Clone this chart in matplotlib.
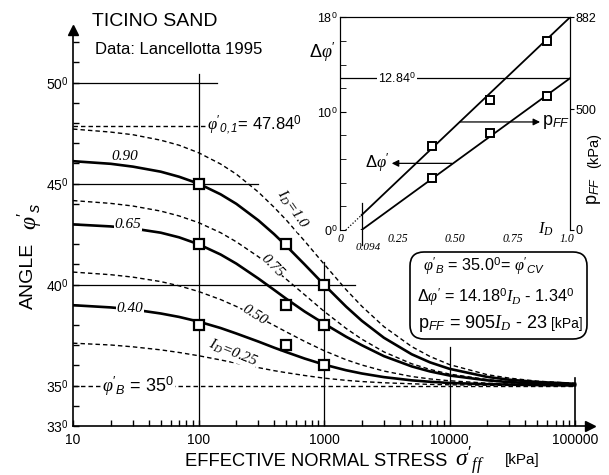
import numpy as np
import matplotlib.pyplot as plt
from matplotlib.patches import FancyBboxPatch
from matplotlib.transforms import IdentityTransform

plt.rcParams['font.family'] = ['Liberation Sans', 'DejaVu Sans']
plt.rcParams['mathtext.fontset'] = 'custom'
plt.rcParams['mathtext.rm'] = 'Liberation Sans'
plt.rcParams['mathtext.it'] = 'Liberation Serif:italic'
plt.rcParams['mathtext.sf'] = 'Liberation Sans:italic'
plt.rcParams['mathtext.bf'] = 'Liberation Sans:bold'

# effective normal stress (kPa) at which the curves were read
sigma = [10, 20, 30, 50, 70, 100, 150, 200, 300, 400, 500, 700, 1000, 1500, 2000,
         3000, 5000, 7000, 10000, 20000, 30000, 50000, 100000]

# dashed curves (I_D = 1.0, 0.75, 0.50, 0.25)
phi_100 = [47.70, 47.55, 47.42, 47.15, 46.90, 46.53, 45.97, 45.47, 44.58, 43.83, 43.20,
           42.16, 41.02, 39.75, 38.93, 37.92, 36.93, 36.44, 36.04, 35.54, 35.37, 35.22, 35.11]
phi_075 = [44.16, 44.02, 43.89, 43.64, 43.40, 43.07, 42.57, 42.12, 41.38, 40.77, 40.27,
           39.50, 38.68, 37.83, 37.30, 36.67, 36.08, 35.80, 35.57, 35.30, 35.20, 35.12, 35.06]
phi_050 = [40.62, 40.49, 40.37, 40.15, 39.94, 39.66, 39.26, 38.92, 38.39, 37.98, 37.66,
           37.19, 36.73, 36.28, 36.02, 35.72, 35.45, 35.33, 35.24, 35.12, 35.08, 35.05, 35.02]
phi_025 = [37.10, 37.01, 36.92, 36.77, 36.64, 36.48, 36.27, 36.11, 35.89, 35.74, 35.64,
           35.50, 35.37, 35.26, 35.20, 35.14, 35.09, 35.06, 35.04, 35.02, 35.01, 35.01, 35.00]
# solid curves (I_D = 0.90, 0.65, 0.40)
phi_090 = [46.11, 45.98, 45.84, 45.59, 45.34, 45.00, 44.47, 44.00, 43.18, 42.50, 41.92,
           41.00, 40.00, 38.91, 38.21, 37.37, 36.55, 36.15, 35.83, 35.43, 35.29, 35.18, 35.09]
phi_065 = [42.98, 42.88, 42.78, 42.57, 42.34, 42.00, 41.49, 41.04, 40.30, 39.74, 39.30,
           38.67, 38.07, 37.42, 37.00, 36.46, 35.95, 35.70, 35.50, 35.26, 35.17, 35.10, 35.05]
phi_040 = [38.98, 38.87, 38.77, 38.57, 38.40, 38.17, 37.85, 37.58, 37.18, 36.88, 36.66,
           36.34, 36.04, 35.76, 35.60, 35.42, 35.26, 35.19, 35.13, 35.07, 35.05, 35.03, 35.01]

# test data points
sig_data = [100, 500, 1000]
pts_090 = [45.0, 42.0, 40.0]
pts_065 = [42.0, 39.0, 38.0]
pts_040 = [38.0, 37.0, 36.0]

# inset data
id_pts = [0.40, 0.65, 0.90]
dphi_pts = [4.37, 8.23, 11.36]
pff_pts = [348, 539, 785]
id_line = [0.094, 1.0]
dphi_line = [0.0, 12.84]
pff_line = [62, 882]
id_dot = [0.025, 0.094]
pff_dot = [0, 62]

W, H = 609, 475


def fx(x):
    return x / W


def fy(y):
    return 1 - y / H


fig = plt.figure(figsize=(W / 100, H / 100), dpi=100)
ax = fig.add_axes([fx(73), fy(426), 517 / W, 396 / H])
ax.set_xscale('log')
ax.set_xlim(10, 10 ** (1 + 517 / 125.5))
ax.set_ylim(33, 33 + 396 / 20.2)
for s in ['top', 'right']:
    ax.spines[s].set_visible(False)
ax.spines['left'].set_linewidth(1.2)
ax.spines['bottom'].set_linewidth(1.2)
ax.plot(1, 0, '>k', ms=7, transform=ax.transAxes, clip_on=False)
ax.plot(0, 1, '^k', ms=7, transform=ax.transAxes, clip_on=False)

ax.set_xticks([10, 100, 1000, 10000, 100000])
ax.set_xticklabels(['10', '100', '1000', '10000', '100000'], fontsize=10)
ax.set_yticks([33, 35, 40, 45, 50])
ax.set_yticklabels(['33$^0$', '35$^0$', '40$^0$', '45$^0$', '50$^0$'], fontsize=10)
ax.set_yticks(range(33, 53), minor=True)
ax.tick_params(which='both', direction='in', length=4.5, width=1)
ax.tick_params(axis='x', pad=5)
ax.tick_params(axis='y', pad=3)

dash = (0, (3.2, 2.2))
lw_ref = 0.9
# reference lines
ax.plot([10, 140], [50, 50], 'k', lw=lw_ref)
ax.plot([10, 298], [45, 45], 'k', lw=lw_ref)
ax.plot([10, 1766], [40, 40], 'k', lw=lw_ref)
ax.plot([10, 113], [47.84, 47.84], 'k', lw=1.0, ls=dash)
ax.plot([10, 100000], [35, 35], 'k', lw=1.0, ls=dash)
ax.plot([100, 100], [33, 50.43], 'k', lw=lw_ref)
ax.plot([1000, 1000], [33, 41.1], 'k', lw=lw_ref)
ax.plot([10000, 10000], [33, 36.9], 'k', lw=lw_ref)
ax.plot([100000, 100000], [33, 35.4], 'k', lw=1.2)

for phi in [phi_100, phi_075, phi_050, phi_025]:
    ax.plot(sigma, phi, 'k', lw=1.0, ls=dash)
for phi in [phi_090, phi_065, phi_040]:
    ax.plot(sigma, phi, 'k', lw=1.9, solid_joinstyle='round')
for pts in [pts_090, pts_065, pts_040]:
    ax.plot(sig_data, pts, 's', ms=7, mfc='white', mec='k', mew=1.6, zorder=5)

serif_it = dict(family='Liberation Serif', style='italic')
wbox = dict(fc='white', ec='none', pad=0.6)

fig.text(fx(155), fy(22), 'TICINO SAND', fontsize=14, ha='center', va='center')
fig.text(fx(95), fy(49), 'Data: Lancellotta 1995', fontsize=12, ha='left', va='center')
fig.text(fx(207), fy(125), r"$\varphi'_{\mathsf{0,1}}$= 47.84$^0$", fontsize=12,
         ha='left', va='center', bbox=wbox, zorder=6)
fig.text(fx(102), fy(386), r"$\varphi'_{\mathsf{B}}$ = 35$^0$", fontsize=13,
         ha='left', va='center', bbox=wbox, zorder=6)
fig.text(fx(125), fy(156), '0.90', fontsize=11, ha='center', va='center', **serif_it)
fig.text(fx(128), fy(224), '0.65', fontsize=11, ha='center', va='center',
         bbox=wbox, zorder=6, **serif_it)
fig.text(fx(130), fy(308), '0.40', fontsize=11, ha='center', va='center',
         bbox=wbox, zorder=6, **serif_it)
for (x, y, t, r) in [(292, 210, r'$I_D$=1.0', -55), (272, 266, '0.75', -45),
                     (255, 315, '0.50', -32), (233, 353, r'$I_D$=0.25', -22)]:
    fig.text(fx(x), fy(y), t, fontsize=11, ha='center', va='center', rotation=r,
             rotation_mode='anchor', bbox=dict(fc='white', ec='none', pad=0.2),
             zorder=6, **serif_it)

# axis labels
fig.text(fx(28), fy(276), 'ANGLE', fontsize=14, rotation=90, ha='center', va='center')
fig.text(fx(30), fy(216), r"$\varphi'_{\mathsf{s}}$", fontsize=17, rotation=90,
         ha='center', va='center')
fig.text(fx(185), fy(461), 'EFFECTIVE NORMAL STRESS', fontsize=13.2, ha='left', va='center')
fig.text(fx(455), fy(460), r"$\sigma'_{ff}$", fontsize=17, ha='left', va='center')
fig.text(fx(505), fy(460), '[kPa]', fontsize=11, ha='left', va='center')

# equation box
box = FancyBboxPatch((410, H - 339), 177, 87, boxstyle='round,pad=0,rounding_size=14',
                     transform=IdentityTransform(), fc='white', ec='k', lw=1.2)
fig.patches.append(box)
fig.text(fx(423), fy(266), r"$\varphi'_{\mathsf{B}}$ = 35.0$^0$= $\varphi'_{\mathsf{CV}}$",
         fontsize=11.7, ha='left', va='center')
fig.text(fx(417), fy(297), r"$\Delta\varphi'$ = 14.18$^0$$I_D$ - 1.34$^0$",
         fontsize=11.7, ha='left', va='center')
fig.text(fx(418), fy(324), r"p$_{\mathsf{FF}}$ = 905$I_D$ - 23", fontsize=13,
         ha='left', va='center')
fig.text(fx(583), fy(324), '[kPa]', fontsize=10, ha='right', va='center')

# inset
axi = fig.add_axes([fx(340), fy(230), 230 / W, 212.7 / H])
axi.set_facecolor('white')
axi.set_xlim(0, 1)
axi.set_ylim(0, 18)
axi.spines['bottom'].set_visible(False)
axi.set_yticks([0, 10, 18])
axi.set_yticklabels(['0$^0$', '10$^0$', '18$^0$'], fontsize=9)
axi.set_yticks(range(0, 19, 2), minor=True)
axi.tick_params(axis='y', which='both', direction='in', length=4, pad=2)
axi.set_xticks([0, 0.25, 0.5, 0.75, 0.985])
axi.set_xticklabels(['0', '0.25', '0.50', '0.75', '1.0'], fontsize=8.5, **serif_it)
axi.tick_params(axis='x', length=0, pad=2)

axi.plot(id_line, dphi_line, 'k', lw=1.3)
axi.plot([0, 1], [12.84, 12.84], 'k', lw=0.9)
axi.text(0.248, 12.84, '12.84$^0$', fontsize=9, ha='center', va='center',
         bbox=dict(fc='white', ec='none', pad=1))
axi.plot([0.094, 0.094], [-1.3, 2.3], 'k', lw=0.9, clip_on=False)
axi.plot(id_pts, dphi_pts, 's', ms=5.5, mfc='white', mec='k', mew=1.4, zorder=5)
axi.annotate('', xy=(0.225, 5.64), xytext=(0.486, 5.64),
             arrowprops=dict(arrowstyle='-|>', color='k', lw=0.9, shrinkA=0, shrinkB=0))
axi.text(0.218, 5.64, r"$\Delta\varphi'$", fontsize=12, ha='right', va='center')

axr = axi.twinx()
axr.set_ylim(0, 882)
axr.spines['bottom'].set_visible(False)
axr.set_yticks([0, 500, 882])
axr.set_yticklabels(['0', '500', '882'], fontsize=9)
axr.tick_params(axis='y', direction='out', length=3, pad=1)
axr.plot(id_line, pff_line, 'k', lw=1.3)
axr.plot(id_dot, pff_dot, 'k', lw=0.9, ls=(0, (1, 1.5)))
axr.plot(id_pts, pff_pts, 's', ms=5.5, mfc='white', mec='k', mew=1.4, zorder=5)
axr.annotate('', xy=(0.87, 448), xytext=(0.52, 448),
             arrowprops=dict(arrowstyle='-|>', color='k', lw=0.9, shrinkA=0, shrinkB=0))
axr.text(0.88, 448, r"p$_{\mathsf{FF}}$", fontsize=13, ha='left', va='center')

fig.text(fx(322), fy(52), r"$\Delta\varphi'$", fontsize=13, ha='center', va='center')
fig.text(fx(546), fy(229), r'$I_D$', fontsize=12, ha='center', va='center')
fig.text(fx(368), fy(248), '0.094', fontsize=8, ha='center', va='center', **serif_it)
fig.text(fx(594), fy(191), r"p$_{\mathsf{FF}}$", fontsize=13, rotation=90,
         ha='center', va='center')
fig.text(fx(594), fy(150), '(kPa)', fontsize=10.5, rotation=90, ha='center', va='center')

fig.savefig('out.png', dpi=100)
